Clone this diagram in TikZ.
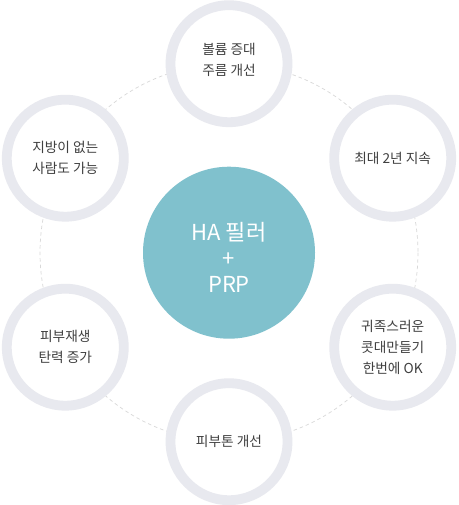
\documentclass[tikz,border=0pt]{standalone}
\usepackage{fontspec}
\newfontfamily\kr{Noto Sans CJK KR}
\definecolor{ringc}{HTML}{E8E9EF}
\definecolor{hubc}{HTML}{80C1CD}
\definecolor{txtc}{HTML}{404040}
\definecolor{dashc}{HTML}{D8D8D8}
\tikzset{
  orbit/.style={draw=dashc, line width=0.7pt, dash pattern=on 3.5pt off 3pt},
  hubnode/.style={circle, fill=hubc, minimum size=172pt, inner sep=0pt},
  hubtext/.style={text=white, align=center, font=\kr\fontsize{22}{26}\selectfont},
  sattext/.style={text=txtc, align=center, font=\kr\fontsize{13.7}{21}\selectfont},
  sat/.style={circle, draw=ringc, line width=9.8pt, fill=white, minimum size=117pt, inner sep=0pt, sattext}
}
\begin{document}
\begin{tikzpicture}[x=1pt,y=-1pt]
\useasboundingbox (0,0) rectangle (458,505);
\fill[white] (0,0) rectangle (458,505);
\coordinate (c) at (229,252.7);
\draw[orbit] (c) circle[radius=189];
\node[hubnode] (hub) at (c) {};
\node[hubtext] (hubt) at (229,257) {HA 필러\\+\\PRP};
\node[sat] (s1) at (229,63.7) {};
\node[sattext] (s1t) at (229,60.2) {볼륨 증대\\주름 개선};
\node[sat] (s2) at (392.7,158.2) {최대 2년 지속};
\node[sat] (s3) at (392.7,347.2) {귀족스러운\\콧대만들기\\한번에 OK};
\node[sat] (s4) at (229,441.7) {피부톤 개선};
\node[sat] (s5) at (65.3,347.2) {피부재생\\탄력 증가};
\node[sat] (s6) at (65.3,158.2) {지방이 없는\\사람도 가능};
\end{tikzpicture}
\end{document}
